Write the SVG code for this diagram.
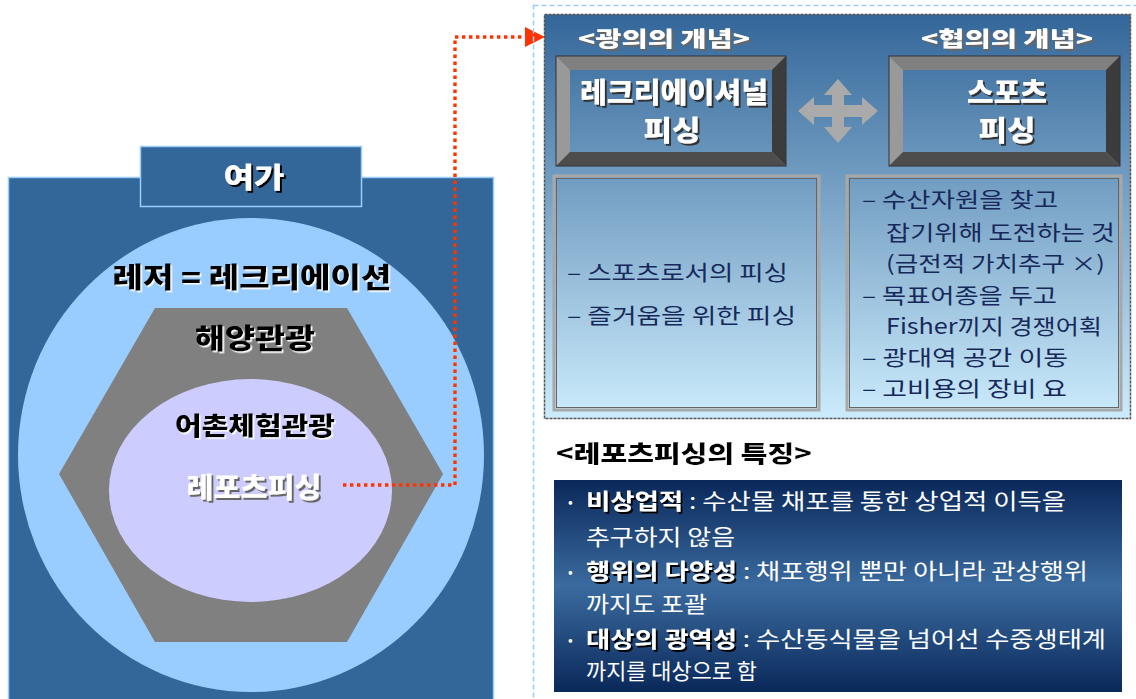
<svg xmlns="http://www.w3.org/2000/svg" width="1136" height="699" viewBox="0 0 1136 699">
<defs>
<linearGradient id="panelGrad" gradientUnits="userSpaceOnUse" x1="0" y1="14" x2="0" y2="418">
<stop offset="0" stop-color="#336699"/>
<stop offset="1" stop-color="#ccecfc"/>
</linearGradient>
<linearGradient id="darkGrad" x1="0" y1="0" x2="0" y2="1">
<stop offset="0" stop-color="#0a285a"/>
<stop offset="0.5" stop-color="#3b6b9f"/>
<stop offset="1" stop-color="#0a285a"/>
</linearGradient>
<filter id="shW" x="-10%" y="-20%" width="130%" height="150%"><feDropShadow dx="1.5" dy="1.5" stdDeviation="0" flood-color="#ffffff"/></filter>
<filter id="shK" x="-10%" y="-20%" width="130%" height="150%"><feDropShadow dx="2" dy="2" stdDeviation="0" flood-color="#000000"/></filter>
<filter id="shG" x="-10%" y="-20%" width="130%" height="150%"><feDropShadow dx="2" dy="2" stdDeviation="0" flood-color="#666666"/></filter>
<filter id="shD" x="-10%" y="-20%" width="130%" height="150%"><feDropShadow dx="2" dy="2" stdDeviation="0" flood-color="#333333"/></filter>
<style>
.hd{font-family:"Noto Sans CJK KR","Noto Sans",sans-serif;font-weight:900;text-anchor:middle;}
.bd{font-family:"Noto Sans CJK KR","Noto Sans",sans-serif;font-weight:400;}
.blk{fill:#000000;filter:url(#shW);}
.wht{fill:#ffffff;}
.navy{fill:#17295a;font-size:21px;}
.wt{fill:#ffffff;font-size:22px;}
.bold{font-weight:700;filter:url(#shK);}
.bul{font-size:14px;}
.box{fill:none;stroke:#a8a8a8;stroke-width:3;}
.boxin{fill:none;stroke:#666666;stroke-width:1;}
</style>
</defs>

<g id="leisure-frame">
<rect x="8.5" y="177.5" width="485" height="530" fill="#336699" stroke="#99ccff" stroke-width="1.5"/>
</g>
<g id="yeoga-title">
<rect x="140.5" y="146.5" width="221" height="60" fill="#336699" stroke="#99ccff" stroke-width="1.5"/>
<text x="254" y="188" class="hd wht" font-size="28" filter="url(#shK)" textLength="61" lengthAdjust="spacingAndGlyphs">여가</text>
</g>
<g id="leisure-circle">
<ellipse cx="251" cy="455" rx="233" ry="237" fill="#99ccff"/>
<text x="252" y="288" class="hd blk" font-size="28" textLength="279" lengthAdjust="spacingAndGlyphs">레저 = 레크리에이션</text>
</g>
<g id="marine-tourism">
<polygon points="155,308 347,308 443,474 347,642 155,642 59,474" fill="#808080"/>
<text x="255" y="349" class="hd blk" font-size="28" textLength="120" lengthAdjust="spacingAndGlyphs">해양관광</text>
</g>
<g id="fishing-village">
<ellipse cx="250.5" cy="490.5" rx="141.5" ry="111.5" fill="#ccccff"/>
<text x="255" y="435" class="hd blk" font-size="25" textLength="160" lengthAdjust="spacingAndGlyphs">어촌체험관광</text>
<text x="254" y="498" class="hd wht" font-size="28" filter="url(#shG)" textLength="135" lengthAdjust="spacingAndGlyphs">레포츠피싱</text>
</g>

<g id="connectors">
<polyline points="343,485 455,485 455,37 534,37" fill="none" stroke="#ff3300" stroke-width="3.4" stroke-dasharray="3.4 3.6"/>
<polygon points="525,27 545,37 525,47" fill="#ff3300"/>
</g>

<g id="concept-panel">
<rect x="533.5" y="5.5" width="620" height="710" fill="none" stroke="#99ccff" stroke-width="1.5" stroke-dasharray="5 3"/>
<rect x="544.5" y="14.5" width="586" height="404" fill="url(#panelGrad)" stroke="#555555" stroke-width="1.5" stroke-dasharray="3 1"/>
<text x="664" y="46" class="hd wht" font-size="21" filter="url(#shG)" textLength="172" lengthAdjust="spacingAndGlyphs">&lt;광의의 개념&gt;</text>
<text x="1007" y="46" class="hd wht" font-size="21" filter="url(#shG)" textLength="172" lengthAdjust="spacingAndGlyphs">&lt;협의의 개념&gt;</text>
</g>

<g id="recreational-fishing">
<polygon points="556,56 786,56 772,70 570,70" fill="#808080"/>
<polygon points="556,56 570,70 570,152 556,166" fill="#999999"/>
<polygon points="786,56 786,166 772,152 772,70" fill="#3c3c3c"/>
<polygon points="556,166 570,152 772,152 786,166" fill="#4d4d4d"/>
<rect x="556" y="56" width="230" height="110" fill="none" stroke="#333333" stroke-width="1"/>
<text x="674" y="103" class="hd wht" font-size="28" filter="url(#shD)" textLength="188" lengthAdjust="spacingAndGlyphs">레크리에이셔널</text>
<text x="672" y="141" class="hd wht" font-size="28" filter="url(#shD)" textLength="57" lengthAdjust="spacingAndGlyphs">피싱</text>
</g>

<g id="sports-fishing">
<polygon points="889,56 1120,56 1106,70 903,70" fill="#808080"/>
<polygon points="889,56 903,70 903,152 889,166" fill="#999999"/>
<polygon points="1120,56 1120,166 1106,152 1106,70" fill="#3c3c3c"/>
<polygon points="889,166 903,152 1106,152 1120,166" fill="#4d4d4d"/>
<rect x="889" y="56" width="231" height="110" fill="none" stroke="#333333" stroke-width="1"/>
<text x="1007" y="103" class="hd wht" font-size="28" filter="url(#shD)" textLength="80" lengthAdjust="spacingAndGlyphs">스포츠</text>
<text x="1007" y="141" class="hd wht" font-size="28" filter="url(#shD)" textLength="57" lengthAdjust="spacingAndGlyphs">피싱</text>
</g>

<g id="both-way-arrow">
<path d="M838,79 L852,95 L844,95 L844,105 L862,105 L862,97 L878,111 L862,125 L862,117 L844,117 L844,127 L852,127 L838,143 L824,127 L832,127 L832,117 L814,117 L814,125 L798,111 L814,97 L814,105 L832,105 L832,95 L824,95 Z" fill="#aaaaaa"/>
</g>

<g id="broad-desc">
<rect x="554" y="176" width="265" height="234" class="box"/>
<rect x="556.5" y="178.5" width="260" height="229" class="boxin"/>
<text x="567" y="280" class="bd navy" textLength="221" lengthAdjust="spacingAndGlyphs">– 스포츠로서의 피싱</text>
<text x="567" y="323" class="bd navy" textLength="229" lengthAdjust="spacingAndGlyphs">– 즐거움을 위한 피싱</text>
</g>

<g id="narrow-desc">
<rect x="847" y="176" width="274" height="234" class="box"/>
<rect x="849.5" y="178.5" width="269" height="229" class="boxin"/>
<text x="862" y="207" class="bd navy" textLength="196" lengthAdjust="spacingAndGlyphs">– 수산자원을 찾고</text>
<text x="886" y="240" class="bd navy" textLength="229" lengthAdjust="spacingAndGlyphs">잡기위해 도전하는 것</text>
<text x="886" y="271" class="bd navy" textLength="219" lengthAdjust="spacingAndGlyphs">(금전적 가치추구 ×)</text>
<text x="862" y="303" class="bd navy" textLength="195" lengthAdjust="spacingAndGlyphs">– 목표어종을 두고</text>
<text x="886" y="334" class="bd navy" textLength="216" lengthAdjust="spacingAndGlyphs">Fisher끼지 경쟁어획</text>
<text x="862" y="365" class="bd navy" textLength="206" lengthAdjust="spacingAndGlyphs">– 광대역 공간 이동</text>
<text x="862" y="396" class="bd navy" textLength="205" lengthAdjust="spacingAndGlyphs">– 고비용의 장비 요</text>
</g>

<g id="features-title">
<text x="684" y="462" class="hd blk" font-size="23" textLength="256" lengthAdjust="spacingAndGlyphs">&lt;레포츠피싱의 특징&gt;</text>
</g>

<g id="features-box">
<rect x="554" y="480" width="568" height="212" fill="url(#darkGrad)"/>
<text x="568" y="507" class="bd wt bul">•</text>
<text x="586" y="509" class="bd wt" textLength="480" lengthAdjust="spacingAndGlyphs"><tspan class="bold">비상업적</tspan> : 수산물 채포를 통한 상업적 이득을</text>
<text x="586" y="545" class="bd wt" textLength="149" lengthAdjust="spacingAndGlyphs">추구하지 않음</text>
<text x="568" y="577" class="bd wt bul">•</text>
<text x="586" y="579" class="bd wt" textLength="502" lengthAdjust="spacingAndGlyphs"><tspan class="bold">행위의 다양성</tspan> : 채포행위 뿐만 아니라 관상행위</text>
<text x="586" y="612" class="bd wt" textLength="121" lengthAdjust="spacingAndGlyphs">까지도 포괄</text>
<text x="568" y="645" class="bd wt bul">•</text>
<text x="586" y="647" class="bd wt" textLength="520" lengthAdjust="spacingAndGlyphs"><tspan class="bold">대상의 광역성</tspan> : 수산동식물을 넘어선 수중생태계</text>
<text x="586" y="679" class="bd wt" textLength="171" lengthAdjust="spacingAndGlyphs">까지를 대상으로 함</text>
</g>
</svg>
